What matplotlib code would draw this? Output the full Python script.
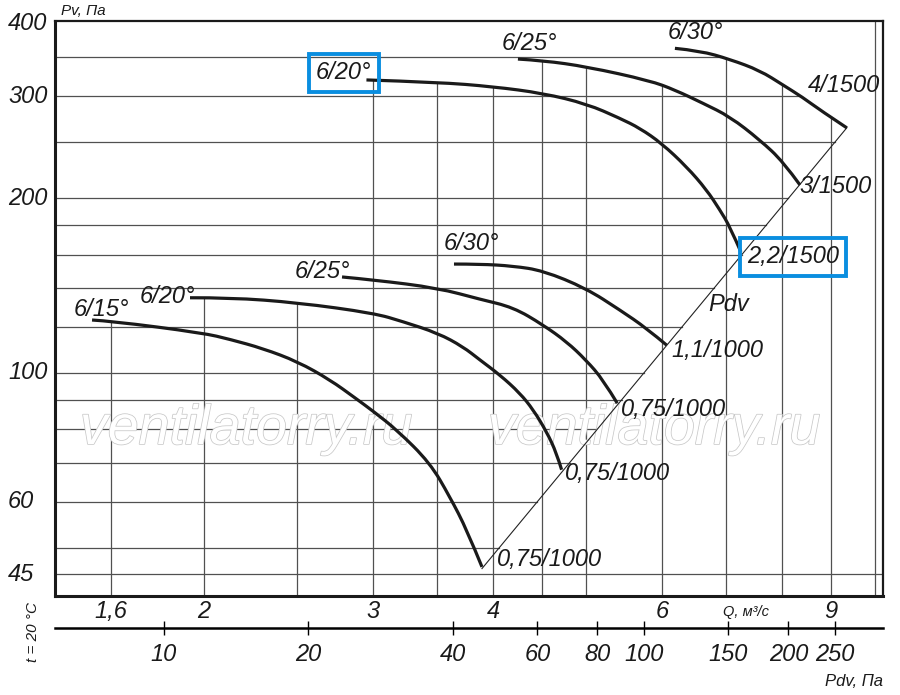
import numpy as np
import matplotlib
matplotlib.use('Agg')
import matplotlib.pyplot as plt
import matplotlib.transforms as mtransforms
import matplotlib.patheffects as pe
from matplotlib.path import Path
from matplotlib.patches import PathPatch
from matplotlib.ticker import NullLocator

plt.rcParams['font.family'] = ['Liberation Sans', 'DejaVu Sans']
plt.rcParams['font.style'] = 'italic'

# Pdv = K * Q^2 (dynamic pressure), Q in m3/s, pressures in Pa
K = 3.03

# 1000 rpm curves
q15 = [1.529, 1.600, 1.995, 2.128, 2.304, 2.504, 2.706, 2.873, 3.007, 3.178, 3.439, 3.608, 3.758, 3.896]
p15 = [123.4, 122.9, 117.2, 114.3, 110.2, 104.6, 97.3, 90.6, 85.7, 79.7, 70.0, 61.1, 53.6, 46.3]
q20 = [1.934, 2.128, 2.504, 3.007, 3.224, 3.506, 3.722, 3.877, 4.068, 4.267, 4.406, 4.549, 4.660, 4.716]
p20 = [134.8, 134.9, 132.2, 126.8, 122.6, 117.1, 111.0, 105.3, 99.2, 92.3, 86.4, 79.2, 72.7, 68.1]
q25 = [2.785, 3.007, 3.506, 3.877, 4.199, 4.512, 4.773, 4.999, 5.211, 5.389]
p25 = [146.4, 144.7, 140.1, 134.0, 129.8, 121.0, 113.2, 105.3, 97.3, 88.7]
q30 = [3.643, 3.877, 4.199, 4.512, 4.999, 5.424, 5.783, 6.067]
p30 = [154.1, 154.1, 152.9, 150.1, 140.0, 128.4, 119.4, 111.7]

# 1500 rpm curves
q20h = [2.953, 3.506, 4.000, 4.512, 5.011, 5.424, 5.691, 5.994, 6.365, 6.678, 6.894, 7.061, 7.250]
p20h = [320.1, 317.2, 311.7, 303.6, 291.0, 274.9, 264.2, 248.9, 226.8, 206.9, 191.0, 178.8, 161.7]
q25h = [4.247, 4.512, 5.011, 5.829, 6.189, 6.623, 7.061, 7.588, 8.024, 8.353]
p25h = [347.8, 345.7, 337.3, 319.2, 307.6, 291.7, 276.7, 252.2, 231.4, 211.0]
q30h = [6.189, 6.571, 7.061, 7.588, 8.019, 8.413, 8.763, 9.349]
p30h = [362.9, 359.4, 347.4, 332.3, 313.8, 298.5, 284.1, 264.6]

x_grid = [1.6, 2, 2.5, 3, 3.5, 4, 4.5, 5, 6, 7, 8, 9, 10]
y_grid = [45, 50, 60, 70, 80, 90, 100, 120, 140, 160, 180, 200, 250, 300, 350]
x_ticks = [1.6, 2, 3, 4, 6, 9]
x_ticklabels = ['1,6', '2', '3', '4', '6', '9']
y_ticks = [45, 60, 100, 200, 300, 400]
pdv_ticks = [10, 20, 40, 60, 80, 100, 150, 200, 250]

xlim = (1.399, 10.195)
ylim = (41.25, 404.5)

curves = [(q15, p15), (q20, p20), (q25, p25), (q30, p30),
          (q20h, p20h), (q25h, p25h), (q30h, p30h)]

fig = plt.figure(figsize=(9, 6.95), dpi=100)
ax = fig.add_axes([55/900, 1-596/695, 828/900, 575/695])
ax.set_xscale('log')
ax.set_yscale('log')
ax.set_xlim(*xlim)
ax.set_ylim(*ylim)

def loginterp(x, xs, ys):
    return np.exp(np.interp(np.log(x), np.log(xs), np.log(ys)))

def smooth_path(q, p):
    # quadratic B-spline over the read points (log space), ends kept
    pts = np.log10(np.column_stack([q, p]))
    n = len(pts)
    verts = [pts[0]]
    codes = [Path.MOVETO]
    for i in range(1, n - 1):
        end = pts[n - 1] if i == n - 2 else (pts[i] + pts[i + 1]) / 2
        verts += [pts[i], end]
        codes += [Path.CURVE3, Path.CURVE3]
    return Path(10 ** np.array(verts), codes)

# vertical grid lines go up to the highest curve at that Q
for q in x_grid:
    tops = [loginterp(q, cq, cp) for cq, cp in curves if cq[0] <= q <= cq[-1]]
    top = max(tops) if tops else ylim[1]
    ax.plot([q, q], [ylim[0], top], color='#505050', lw=0.9, zorder=1)

# horizontal grid lines stop at the outer 6/30 curve or the Pdv line
for h in y_grid:
    if min(p30h) <= h <= max(p30h):
        end = loginterp(h, p30h[::-1], q30h[::-1])
    elif h < K * q15[-1]**2:
        end = xlim[1]
    else:
        end = min(np.sqrt(h / K), 10)
    ax.plot([xlim[0], end], [h, h], color='#505050', lw=0.9, zorder=1)

# Pdv line
qd = np.array([q15[-1], q30h[-1]])
ax.plot(qd, K * qd**2, color='#222222', lw=0.8, zorder=3)

for cq, cp in curves:
    ax.add_patch(PathPatch(smooth_path(cq, cp), fill=False, ec='#1a1a1a', lw=2.3,
                           capstyle='butt', zorder=4))

blue = dict(boxstyle='square,pad=0.3', fc='none', ec='#0a8ee0', lw=2.8)
labels = [
    ('6/15°', q15[0], p15[0], (9, 11), 'center', None),
    ('6/20°', q20[0], p20[0], (5, 1), 'right', None),
    ('6/25°', q25[0], p25[0], (8, 5), 'right', None),
    ('6/30°', q30[0], p30[0], (17, 21), 'center', None),
    ('6/20°', q20h[0], p20h[0], (5, 7), 'right', blue),
    ('6/25°', q25h[0], p25h[0], (11, 16), 'center', None),
    ('6/30°', q30h[0], p30h[0], (21, 16), 'center', None),
    ('4/1500', q30h[-1], p30h[-1], (-3, 42), 'center', None),
    ('3/1500', q25h[-1], p25h[-1], (0, -2), 'left', None),
    ('2,2/1500', q20h[-1], p20h[-1], (6, -5), 'left', blue),
    ('1,1/1000', q30[-1], p30[-1], (5, -5), 'left', None),
    ('0,75/1000', q25[-1], p25[-1], (4, -6), 'left', None),
    ('0,75/1000', q20[-1], p20[-1], (3, -4), 'left', None),
    ('0,75/1000', q15[-1], p15[-1], (15, 7), 'left', None),
]
for txt, q, p, off, ha, box in labels:
    ax.annotate(txt, xy=(q, p), xytext=off, textcoords='offset pixels',
                ha=ha, va='center', fontsize=17, color='#1a1a1a', bbox=box, zorder=5)

ax.text(7.04, 131, 'Pdv', ha='center', va='center', fontsize=17, color='#1a1a1a', zorder=5)

for xf in [0.2307, 0.7234]:
    ax.text(xf, 0.2887, 'ventilatorry.ru', transform=ax.transAxes, ha='center', va='center',
            fontsize=40, color='white', zorder=2,
            path_effects=[pe.withStroke(linewidth=1.1, foreground='#c8c8c8')])

# axes frame
for side, w in [('left', 2.2), ('bottom', 2.2), ('top', 1.6), ('right', 1.6)]:
    ax.spines[side].set_linewidth(w)
    ax.spines[side].set_color('#1a1a1a')

ax.set_xticks(x_ticks, x_ticklabels)
ax.xaxis.set_minor_locator(NullLocator())
ax.tick_params(axis='x', length=0, pad=3, labelsize=17, labelcolor='#1a1a1a')
ax.set_yticks([])
ax.yaxis.set_minor_locator(NullLocator())

trans = mtransforms.blended_transform_factory(fig.transFigure, ax.transData)
for v in y_ticks:
    ax.text(8/900, v, str(v), transform=trans, ha='left', va='center', fontsize=17, color='#1a1a1a')

sec = ax.secondary_xaxis(-32/575, functions=(lambda q: K * np.asarray(q)**2,
                                              lambda p: np.sqrt(np.abs(p) / K)))
sec.set_xticks(pdv_ticks, [str(v) for v in pdv_ticks])
sec.xaxis.set_minor_locator(NullLocator())
sec.tick_params(direction='inout', length=10, width=1, pad=6, labelsize=17, labelcolor='#1a1a1a')
sec.spines['bottom'].set_linewidth(1.8)

fig.text(61/900, 1-11/695, 'Pv, Па', ha='left', va='center', fontsize=11, color='#1a1a1a')
fig.text(746/900, 1-612/695, 'Q, м³/с', ha='center', va='center', fontsize=10.5, color='#1a1a1a')
fig.text(883/900, 1-681/695, 'Pdv, Па', ha='right', va='center', fontsize=12, color='#1a1a1a')
fig.text(33/900, 1-632/695, 't = 20 °C', ha='center', va='center', rotation=90, fontsize=11, color='#1a1a1a')

plt.savefig('out.png', dpi=100)
plt.close()
